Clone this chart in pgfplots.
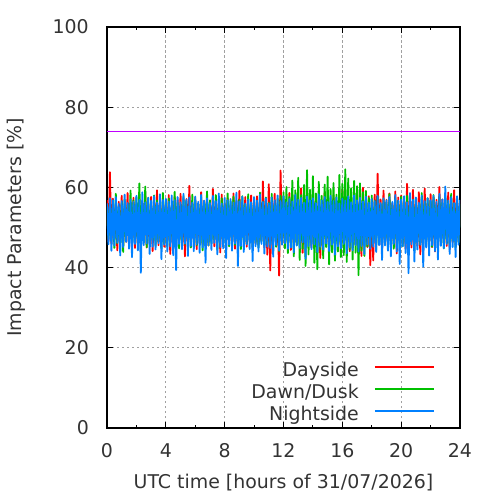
\documentclass[border=0pt]{standalone}
\usepackage{fontspec}
\setmainfont{DejaVu Sans}
\usepackage{pgfplots}
\usepackage{pgfplotstable}
\pgfplotsset{compat=1.18}
\definecolor{cred}{RGB}{255,0,0}
\definecolor{cgreen}{RGB}{0,192,0}
\definecolor{cblue}{RGB}{0,128,255}
\definecolor{cpurple}{RGB}{192,0,255}
\definecolor{cgrid}{RGB}{160,160,160}
\definecolor{ctext}{RGB}{51,51,51}
\pgfplotstableread{
t r g b
0.0 56.8 55.2 56.0
0.1 46.5 47.2 45.8
0.2 63.8 56.1 57.3
0.3 45.9 46.8 44.2
0.4 57.2 55.9 56.8
0.5 46.9 44.9 45.5
0.6 55.8 58.4 57.6
0.7 44.3 46.1 46.2
0.8 56.4 55.1 55.9
0.9 47.1 45.3 43.0
1.0 57.9 56.3 56.6
1.1 45.6 43.9 45.1
1.2 55.3 57.0 58.2
1.3 46.4 46.9 46.4
1.4 58.6 55.6 56.1
1.5 45.1 47.0 44.7
1.6 56.1 59.2 57.0
1.7 46.8 45.5 42.6
1.8 57.4 56.8 56.4
1.9 44.9 46.2 45.9
2.0 55.7 57.5 57.9
2.1 46.2 45.8 44.3
2.2 57.0 61.0 56.9
2.3 45.3 44.6 38.7
2.4 56.5 56.0 58.8
2.5 46.7 46.3 45.6
2.6 58.9 60.2 56.3
2.7 45.0 45.1 46.0
2.8 55.4 57.4 57.4
2.9 46.1 46.6 43.4
3.0 57.6 55.3 56.7
3.1 44.1 46.9 45.2
3.2 56.2 58.0 57.8
3.3 47.0 45.4 44.5
3.4 59.3 56.7 56.2
3.5 45.6 46.5 46.1
3.6 55.9 55.8 58.3
3.7 46.3 44.7 42.1
3.8 57.3 58.6 56.9
3.9 45.2 46.0 45.7
4.0 56.0 56.4 57.2
4.1 46.6 45.2 44.0
4.2 58.1 57.2 56.5
4.3 43.4 46.4 45.3
4.4 55.6 55.5 58.0
4.5 46.0 45.7 43.1
4.6 57.7 58.9 56.8
4.7 45.4 46.8 39.4
4.8 56.9 56.2 57.6
4.9 46.8 44.8 45.9
5.0 58.4 55.7 56.3
5.1 45.7 46.3 44.6
5.2 55.5 57.9 58.4
5.3 42.8 45.9 46.0
5.4 57.1 56.5 56.9
5.5 46.5 47.1 42.9
5.6 60.4 55.4 57.5
5.7 45.1 45.0 45.4
5.8 56.3 58.2 56.2
5.9 46.9 46.4 44.1
6.0 57.5 56.9 57.7
6.1 44.6 45.6 45.8
6.2 55.8 55.9 56.4
6.3 46.2 46.7 43.7
6.4 58.8 57.6 58.1
6.5 45.8 44.3 45.0
6.6 56.6 56.3 56.7
6.7 46.4 46.2 41.2
6.8 57.8 59.0 57.3
6.9 45.5 45.5 45.6
7.0 55.9 56.8 56.1
7.1 47.0 46.0 44.4
7.2 59.6 55.6 57.9
7.3 45.3 46.9 46.2
7.4 56.7 58.1 56.6
7.5 46.1 44.4 43.3
7.6 57.0 56.0 58.5
7.7 43.8 46.5 45.1
7.8 58.2 57.3 56.0
7.9 46.7 45.8 44.8
8.0 56.1 55.7 57.4
8.1 45.4 46.6 42.4
8.2 57.4 58.5 56.8
8.3 46.6 45.3 45.7
8.4 55.5 56.6 57.1
8.5 45.9 47.0 44.2
8.6 58.5 57.7 56.2
8.7 44.7 45.7 46.0
8.8 56.8 55.2 58.7
8.9 46.3 46.1 40.4
9.0 59.1 56.9 56.5
9.1 45.8 44.6 45.4
9.2 56.0 57.8 57.7
9.3 46.9 46.3 43.9
9.4 57.6 55.8 56.0
9.5 45.2 45.9 45.8
9.6 55.7 58.3 57.0
9.7 46.4 46.8 44.6
9.8 58.0 56.1 56.3
9.9 44.9 45.1 41.6
10.0 56.4 57.1 57.6
10.1 46.0 46.2 45.3
10.2 57.8 55.5 56.7
10.3 45.6 44.9 44.0
10.4 56.9 58.7 58.2
10.5 46.7 46.5 45.9
10.6 61.5 56.4 56.4
10.7 45.0 45.6 43.5
10.8 57.2 57.5 57.3
10.9 43.2 46.0 45.2
11.0 60.8 56.2 56.0
11.1 39.3 45.4 44.9
11.2 57.5 58.4 57.5
11.3 46.2 46.7 42.7
11.4 58.4 55.9 56.8
11.5 45.5 45.2 45.6
11.6 55.6 57.2 58.0
11.7 38.0 44.1 44.3
11.8 64.2 57.9 56.6
11.9 46.6 46.4 45.7
12.0 57.1 58.8 57.8
12.1 45.3 44.8 46.1
12.2 56.3 60.1 56.3
12.3 46.8 43.6 44.7
12.4 58.6 57.6 57.1
12.5 44.4 46.2 45.0
12.6 55.8 61.7 56.5
12.7 46.1 42.8 43.8
12.8 57.9 59.3 58.1
12.9 45.7 45.5 45.5
13.0 56.5 62.4 56.9
13.1 46.3 41.9 44.9
13.2 59.8 58.1 57.4
13.3 43.7 44.7 46.3
13.4 56.7 60.6 56.2
13.5 45.9 40.4 42.2
13.6 57.6 64.3 57.7
13.7 46.9 43.3 45.4
13.8 55.9 59.4 56.8
13.9 45.0 45.8 44.6
14.0 58.3 62.8 57.3
14.1 46.5 41.2 45.8
14.2 56.6 58.5 56.1
14.3 45.4 39.6 43.9
14.4 57.7 61.4 58.3
14.5 42.4 44.6 45.2
14.6 56.2 57.9 56.7
14.7 46.0 42.3 44.5
14.8 58.9 60.7 57.6
14.9 45.7 45.1 46.0
15.0 57.0 62.7 56.4
15.1 44.8 40.8 44.1
15.2 55.7 59.6 57.9
15.3 46.6 43.8 45.7
15.4 58.1 61.1 56.6
15.5 45.2 41.7 43.2
15.6 56.4 58.2 57.5
15.7 46.8 44.0 45.3
15.8 57.4 63.1 56.0
15.9 43.9 42.6 44.8
16.0 59.5 60.9 57.2
16.1 45.8 43.1 45.9
16.2 56.8 64.5 56.7
16.3 46.2 41.4 43.6
16.4 58.0 62.2 57.8
16.5 44.1 44.5 45.1
16.6 57.3 59.8 56.3
16.7 46.4 42.0 44.3
16.8 55.9 61.6 58.0
16.9 45.6 43.7 45.6
17.0 58.7 60.3 56.8
17.1 46.0 38.1 44.0
17.2 57.1 61.0 57.4
17.3 42.9 44.2 45.4
17.4 59.9 58.8 56.5
17.5 46.3 42.9 43.4
17.6 56.3 59.1 57.7
17.7 45.1 45.3 45.8
17.8 57.8 57.4 56.2
17.9 40.6 44.9 44.7
18.0 56.6 58.0 57.1
18.1 41.8 46.1 45.2
18.2 58.2 56.7 56.6
18.3 46.5 44.4 43.9
18.4 63.4 57.5 57.9
18.5 45.7 46.3 45.6
18.6 57.0 55.9 56.1
18.7 44.2 45.4 41.9
18.8 59.2 57.0 57.3
18.9 46.1 46.6 45.5
19.0 56.9 56.3 56.8
19.1 45.3 45.0 44.2
19.2 58.5 58.3 57.6
19.3 46.7 46.7 42.8
19.4 56.0 55.6 56.4
19.5 45.5 44.7 45.9
19.6 59.0 57.2 58.1
19.7 43.5 46.2 44.0
19.8 57.5 56.6 56.7
19.9 46.2 45.6 40.9
20.0 58.0 57.7 57.0
20.1 45.9 45.3 45.3
20.2 56.4 56.1 57.8
20.3 44.6 46.5 43.6
20.4 60.9 57.9 56.3
20.5 46.4 45.9 38.6
20.6 57.3 55.8 58.6
20.7 45.0 46.9 45.8
20.8 59.4 56.9 56.9
20.9 46.8 44.2 41.5
21.0 56.7 57.1 57.5
21.1 45.4 46.4 44.5
21.2 58.8 55.7 56.2
21.3 43.3 45.7 45.7
21.4 57.2 58.6 58.0
21.5 46.1 46.0 40.2
21.6 59.7 56.4 56.6
21.7 45.8 45.5 45.0
21.8 56.1 57.3 57.3
21.9 46.6 46.8 43.0
22.0 58.3 56.5 56.8
22.1 45.1 45.2 45.6
22.2 57.6 58.1 57.9
22.3 44.0 46.6 44.1
22.4 56.9 55.5 56.4
22.5 46.9 45.9 42.0
22.6 60.1 57.6 58.4
22.7 45.6 46.3 45.4
22.8 57.0 56.2 57.0
22.9 46.0 44.8 44.8
23.0 56.2 57.9 60.2
23.1 45.4 46.1 45.9
23.2 58.7 56.6 56.7
23.3 44.5 45.4 43.4
23.4 57.3 58.4 57.6
23.5 46.3 46.6 45.1
23.6 59.3 56.0 56.1
23.7 45.7 45.0 42.6
23.8 57.5 57.4 57.8
23.9 46.5 46.3 45.7
24.0 56.8 55.9 56.9
}\data
\begin{document}
\begin{tikzpicture}[font=\fontsize{19}{22}\selectfont]
\begin{axis}[
  name=ax,
  scale only axis,
  width=353bp, height=401bp,
  xmin=0, xmax=24, ymin=0, ymax=100,
  xtick={0,4,...,24}, minor x tick num=1,
  ytick={0,20,...,100},
  tick pos=both, tick align=inside,
  major tick length=6bp, minor tick length=3bp,
  every tick/.style={black, line width=1bp},
  axis line style={black, line width=1.3bp},
  grid=major,
  major grid style={cgrid, line width=0.8bp, dash pattern=on 2.5bp off 2.5bp},
  /pgf/number format/assume math mode=true,
  tick label style={text=ctext, font=\fontsize{19}{22}\selectfont},
  xticklabel style={anchor=base, inner sep=0pt, yshift=-29bp},
  yticklabel style={anchor=east, inner sep=0pt, xshift=-18bp},
  xlabel={UTC time [hours of 31/07/2026]},
  ylabel={Impact Parameters [\%]},
  xlabel style={at={(axis description cs:0.5,-0.1521)}, anchor=base, inner sep=0pt, text=ctext},
  ylabel style={at={(axis description cs:-0.2436,0.5)}, anchor=base, inner sep=0pt, text=ctext},
  legend plot pos=right,
  legend cell align=right,
  legend image code/.code={\draw[#1, line width=2bp] (0bp,5.5bp) -- (59bp,5.5bp);},
  legend style={draw=none, fill=none, at={(rel axis cs:0.9292,0.1671)}, anchor=north east,
    inner sep=0pt, row sep=0bp, column sep=15bp, text=ctext,
    font=\fontsize{19}{22}\selectfont,
    nodes={inner sep=0pt, text height=15bp, text depth=7bp}},
]
\addplot[cpurple, line width=1bp, forget plot] coordinates {(0,74) (24,74)};
\addplot[cred, line width=1.8bp, line join=round] table[x=t, y=r] {\data};
\addlegendentry{Dayside}
\addplot[cgreen, line width=1.8bp, line join=round] table[x=t, y=g] {\data};
\addlegendentry{Dawn/Dusk}
\addplot[cblue, line width=1.8bp, line join=round] table[x=t, y=b] {\data};
\addlegendentry{Nightside}
\end{axis}
\path ([shift={(-107bp,-72bp)}]ax.south west) rectangle ++(500bp,500bp);
\end{tikzpicture}
\end{document}
